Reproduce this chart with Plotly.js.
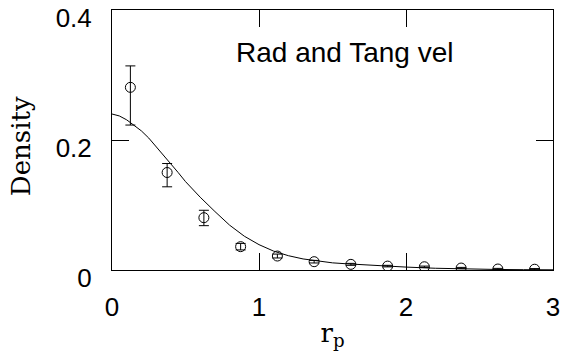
<!DOCTYPE html>
<html>
<head>
<meta charset="utf-8">
<script src="https://cdn.plot.ly/plotly-3.0.1.min.js"></script>
<style>html,body{margin:0;padding:0;background:#fff;}#chart{width:565px;height:362px;}</style>
</head>
<body>
<div id="chart"></div>
<script>
// Measured points with error bars
const pointR = [0.125, 0.375, 0.625, 0.875, 1.125, 1.375, 1.625, 1.875, 2.125, 2.375, 2.625, 2.875];
const pointDensity = [0.281, 0.150, 0.0805, 0.0359, 0.0215, 0.0128, 0.0087, 0.006, 0.005, 0.003, 0.0015, 0.0012];
const errPlus = [0.033, 0.0138, 0.0114, 0.005, 0.003, 0.002, 0.0015, 0.0012, 0.001, 0.001, 0.001, 0.001];
const errMinus = [0.058, 0.022, 0.0123, 0.005, 0.003, 0.002, 0.0015, 0.0012, 0.001, 0.001, 0.001, 0.001];

// Model curve
const curveR = [0, 0.05, 0.1, 0.15, 0.2, 0.25, 0.3, 0.35, 0.4, 0.45, 0.5, 0.6, 0.7, 0.8, 0.9, 1.0, 1.1, 1.2, 1.3, 1.4, 1.5, 1.6, 1.8, 2.0, 2.2, 2.4, 2.6, 2.8, 3.0];
const curveDensity = [0.240, 0.237, 0.231, 0.223, 0.214, 0.203, 0.190, 0.176, 0.163, 0.150, 0.136, 0.112, 0.090, 0.069, 0.052, 0.039, 0.029, 0.022, 0.017, 0.0135, 0.011, 0.0095, 0.0068, 0.0045, 0.0027, 0.0015, 0.0009, 0.0005, 0.0003];

const xTicks = [0, 1, 2, 3];
const xTickLabels = ['0', '1', '2', '3'];
const yTicks = [0, 0.2, 0.4];
const yTickLabels = ['0', '0.2', '0.4'];
const yTitle = 'Density';
const xTitle = 'r<sub>p</sub>';
const panelLabel = 'Rad and Tang vel';

const sans = 'Liberation Sans, Arial, sans-serif';
const serif = 'DejaVu Serif, serif';

const traces = [
  {
    x: curveR, y: curveDensity, type: 'scatter', mode: 'lines',
    line: {color: '#000', width: 1}, hoverinfo: 'skip'
  },
  {
    x: pointR, y: pointDensity, type: 'scatter', mode: 'markers',
    marker: {symbol: 'circle-open', size: 10, color: '#000', line: {width: 1, color: '#000'}},
    error_y: {type: 'data', symmetric: false, array: errPlus, arrayminus: errMinus,
              color: '#000', thickness: 1, width: 5}
  }
];

const axisCommon = {
  showgrid: false, zeroline: false, showline: true, linecolor: '#000', linewidth: 1,
  mirror: 'ticks', ticks: 'inside', ticklen: 17, tickwidth: 1, tickcolor: '#000',
  tickfont: {family: sans, size: 26, color: '#000'}, ticklabeloverflow: 'allow'
};

const layout = {
  width: 565, height: 362,
  margin: {l: 112, r: 12, t: 10, b: 92},
  paper_bgcolor: '#fff', plot_bgcolor: '#fff',
  showlegend: false,
  xaxis: Object.assign({}, axisCommon, {
    range: [0, 3], tickmode: 'array', tickvals: xTicks, ticktext: xTickLabels,
    ticklabelstandoff: 14,
    title: {text: xTitle, font: {family: serif, size: 26, color: '#000'}, standoff: 2}
  }),
  yaxis: Object.assign({}, axisCommon, {
    range: [0, 0.4], tickmode: 'array', tickvals: yTicks, ticktext: yTickLabels,
    ticklabelstandoff: 14, ticklabelshift: 8
  }),
  annotations: [
    {
      x: 1.58, y: 0.335, xref: 'x', yref: 'y', xanchor: 'center', yanchor: 'middle',
      text: panelLabel, showarrow: false,
      font: {family: sans, size: 28, color: '#000'}
    },
    {
      x: -0.206, y: 0.477, xref: 'paper', yref: 'paper', xanchor: 'center', yanchor: 'middle',
      text: yTitle, textangle: -90, showarrow: false,
      font: {family: serif, size: 26, color: '#000'}
    }
  ]
};

Plotly.newPlot('chart', traces, layout, {staticPlot: true, displayModeBar: false});
</script>
</body>
</html>
